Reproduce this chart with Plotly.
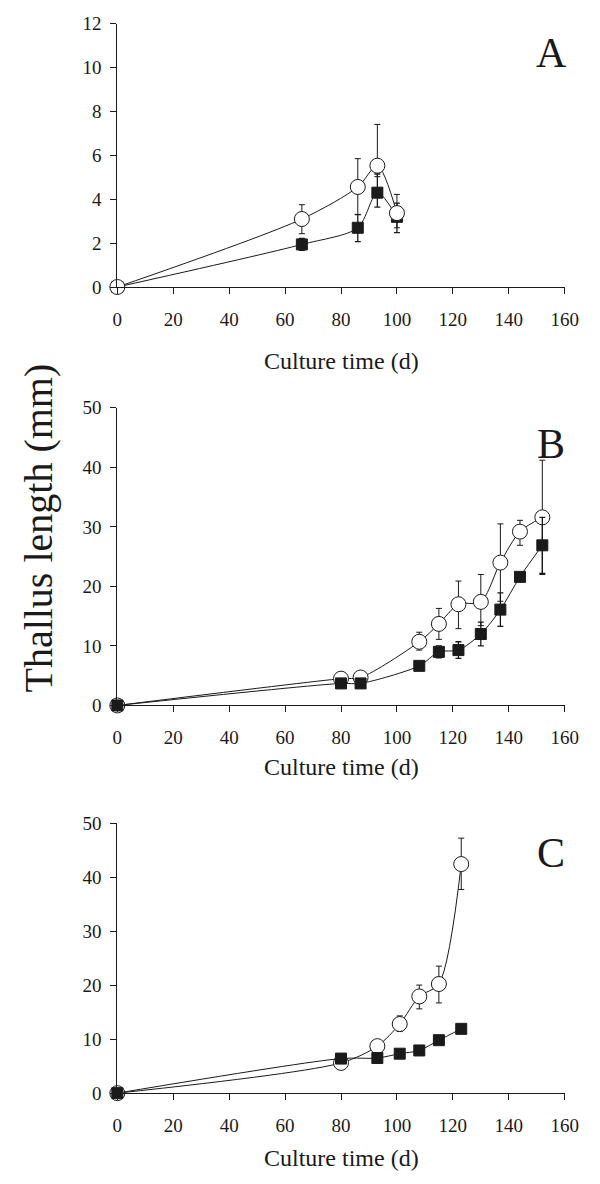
import plotly.graph_objects as go

# ---------------- data ----------------
# Panel A
a_days = [0, 66, 86, 93, 100]
a_open = [0, 3.10, 4.56, 5.53, 3.37]
a_open_plus = [0, 0.65, 1.29, 1.88, 0.85]
a_open_minus = [0, 0.67, 1.25, 0.50, 0.67]
a_fill = [0, 1.94, 2.70, 4.30, 3.20]
a_fill_plus = [0, 0.27, 0.60, 0.85, 0.62]
a_fill_minus = [0, 0.27, 0.63, 0.66, 0.72]

# Panel B
b_days = [0, 80, 87, 108, 115, 122, 130, 137, 144, 152]
b_open = [0, 4.5, 4.7, 10.7, 13.7, 17.0, 17.4, 24.0, 29.2, 31.6]
b_open_plus = [0, 0.3, 0.3, 1.6, 2.6, 3.9, 4.6, 6.5, 1.9, 9.6]
b_open_minus = [0, 0.3, 0.3, 1.4, 2.6, 4.1, 4.0, 6.5, 2.3, 9.6]
b_fill = [0, 3.7, 3.7, 6.65, 9.0, 9.3, 12.0, 16.1, 21.6, 26.9]
b_fill_err = [0, 0.3, 0.3, 0.7, 1.0, 1.4, 2.0, 2.8, 0.5, 4.7]

# Panel C
c_days = [0, 80, 93, 101, 108, 115, 123]
c_open = [0, 5.6, 8.7, 12.8, 17.9, 20.2, 42.4]
c_open_plus = [0, 0.3, 0.5, 1.5, 2.1, 3.3, 4.8]
c_open_minus = [0, 0.3, 0.5, 1.4, 2.3, 3.5, 4.7]
c_fill = [0, 6.4, 6.5, 7.3, 7.9, 9.8, 11.9]
c_fill_err = [0, 0.3, 0.3, 0.3, 0.3, 0.4, 0.8]

x_ticks = [0, 20, 40, 60, 80, 100, 120, 140, 160]
panel_labels = ["A", "B", "C"]
x_title = "Culture time (d)"
y_title = "Thallus length (mm)"

# ---------------- layout geometry ----------------
W, H = 600, 1184
FONT = "Liberation Serif, Times New Roman, serif"
INK = "#1a1a1a"


def py(px):
    return 1 - px / H


x_dom = [116 / W, 578 / W]
panels = [
    # (y top px, y bottom px, y max, dtick)
    (14, 282, 12, 2),
    (405, 708, 50, 10),
    (827.7, 1102.7, 50, 10),
]

fig = go.Figure()


def open_trace(x, y, ep, em, xa, ya):
    return go.Scatter(
        x=x, y=y, xaxis=xa, yaxis=ya, mode="lines+markers",
        line=dict(color=INK, width=1, shape="spline", smoothing=0.8),
        marker=dict(symbol="circle", size=15, color="white",
                    line=dict(color=INK, width=1)),
        error_y=dict(type="data", array=ep, arrayminus=em, symmetric=False,
                     color=INK, thickness=1, width=3),
        cliponaxis=False, showlegend=False,
    )


def fill_trace(x, y, ep, em, xa, ya):
    return go.Scatter(
        x=x, y=y, xaxis=xa, yaxis=ya, mode="lines+markers",
        line=dict(color=INK, width=1, shape="spline", smoothing=0.8),
        marker=dict(symbol="square", size=11, color=INK,
                    line=dict(color=INK, width=1)),
        error_y=dict(type="data", array=ep, arrayminus=em, symmetric=False,
                     color=INK, thickness=1.3, width=3),
        cliponaxis=False, showlegend=False,
    )


# Panel A: circles drawn on top
fig.add_trace(fill_trace(a_days, a_fill, a_fill_plus, a_fill_minus, "x", "y"))
fig.add_trace(open_trace(a_days, a_open, a_open_plus, a_open_minus, "x", "y"))
# Panel B: squares on top
fig.add_trace(open_trace(b_days, b_open, b_open_plus, b_open_minus, "x2", "y2"))
fig.add_trace(fill_trace(b_days, b_fill, b_fill_err, b_fill_err, "x2", "y2"))
# Panel C: squares on top
fig.add_trace(open_trace(c_days, c_open, c_open_plus, c_open_minus, "x3", "y3"))
fig.add_trace(fill_trace(c_days, c_fill, c_fill_err, c_fill_err, "x3", "y3"))

layout = dict(
    width=W, height=H,
    margin=dict(l=0, r=0, t=0, b=0),
    paper_bgcolor="white", plot_bgcolor="white",
    font=dict(family=FONT, color=INK, size=19),
)

annotations = []
for i, (top, bot, ymax, dt) in enumerate(panels):
    sfx = "" if i == 0 else str(i + 1)
    layout["xaxis" + sfx] = dict(
        domain=x_dom, anchor="y" + sfx, range=[0, 160],
        tickvals=x_ticks, ticks="outside", ticklen=6, tickwidth=1,
        tickcolor=INK, showline=True, linecolor=INK, linewidth=1,
        showgrid=False, zeroline=False,
        tickfont=dict(family=FONT, size=19, color=INK),
        ticklabelstandoff=9,
    )
    layout["yaxis" + sfx] = dict(
        domain=[py(bot), py(top)], anchor="x" + sfx, range=[0, ymax],
        dtick=dt, ticks="outside", ticklen=6, tickwidth=1,
        tickcolor=INK, showline=True, linecolor=INK, linewidth=1,
        showgrid=False, zeroline=False,
        tickfont=dict(family=FONT, size=19, color=INK),
        ticklabelstandoff=5,
    )

# x titles
for ypx in [357, 771, 1169]:
    annotations.append(dict(
        text=x_title, x=(116 + 578) / 2 / W, y=py(ypx), xref="paper",
        yref="paper", xanchor="center", yanchor="middle", showarrow=False,
        font=dict(family=FONT, size=24, color=INK)))

# panel letters
for lab, ypx in zip(panel_labels, [44, 442, 858]):
    annotations.append(dict(
        text=lab, x=564 / W, y=py(ypx), xref="paper", yref="paper",
        xanchor="center", yanchor="middle", showarrow=False,
        font=dict(family=FONT, size=42, color=INK)))

# shared y title
annotations.append(dict(
    text=y_title, x=35 / W, y=py(527), xref="paper", yref="paper",
    xanchor="center", yanchor="middle", showarrow=False, textangle=-90,
    font=dict(family=FONT, size=40, color=INK)))

layout["annotations"] = annotations
fig.update_layout(**layout)

fig.write_html(
    "out.html",
    config={"displayModeBar": False, "staticPlot": True},
    post_script="document.body.style.margin='0';document.body.style.overflow='hidden';",
)
